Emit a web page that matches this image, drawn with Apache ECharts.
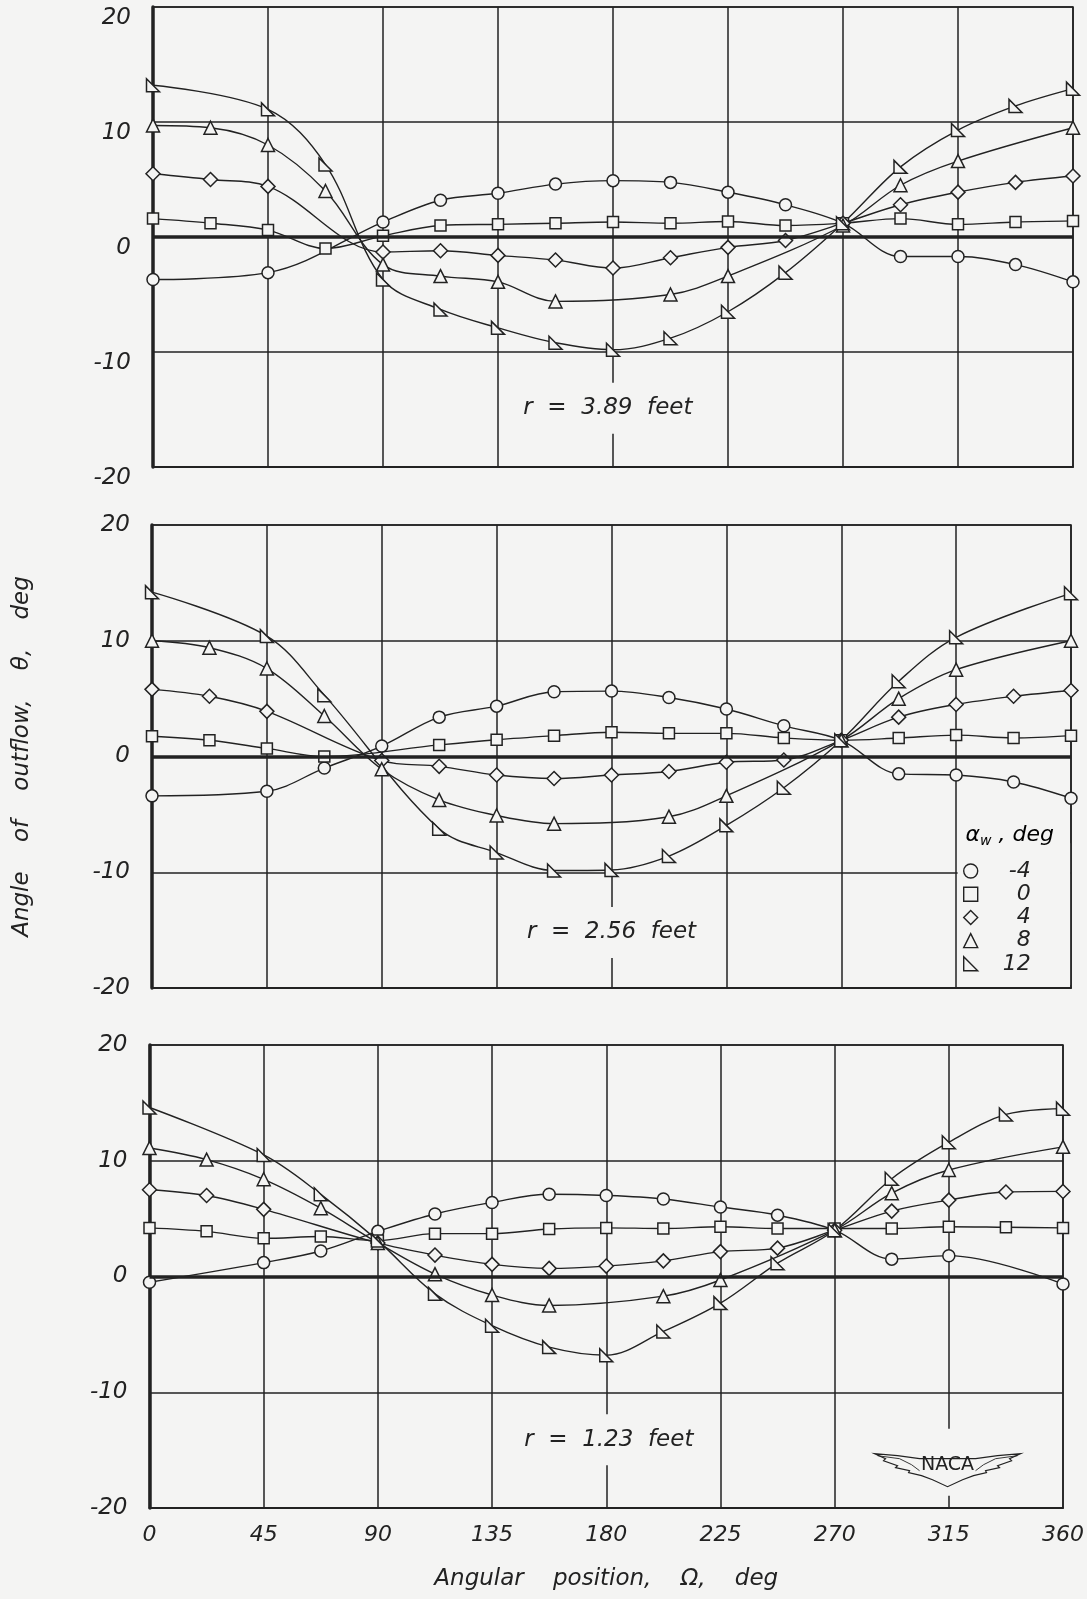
<!DOCTYPE html>
<html><head><meta charset="utf-8">
<script src="https://cdn.jsdelivr.net/npm/echarts@6/dist/echarts.min.js"></script>
<style>html,body{margin:0;padding:0;background:#f4f4f3}#c{width:1087px;height:1599px}</style>
</head><body><div id="c"></div>
<script>
// ---------- data ----------
const angles = [0, 22.5, 45, 67.5, 90, 112.5, 135, 157.5, 180, 202.5, 225, 247.5, 270, 292.5, 315, 337.5, 360];
const xTicks = [0, 45, 90, 135, 180, 225, 270, 315, 360];
const yTicks = [-20, -10, 0, 10, 20];
const alphaW = ['-4', '0', '4', '8', '12'];
const radii = ['3.89', '2.56', '1.23'];

// r = 3.89 feet
const r389_m4 = [-3.7, null, -3.1, null, 1.3, 3.2, 3.8, 4.6, 4.9, 4.75, 3.9, 2.8, 1.2, -1.7, -1.7, -2.4, -3.9];
const r389_0  = [1.6, 1.2, 0.6, -1.0, 0.1, 1.0, 1.1, 1.2, 1.3, 1.2, 1.35, 1.0, 1.2, 1.6, 1.1, 1.3, 1.4];
const r389_4  = [5.5, 5.0, 4.4, null, -1.3, -1.2, -1.6, -2.0, -2.7, -1.8, -0.9, -0.3, 1.2, 2.8, 3.9, 4.75, 5.3];
const r389_8  = [9.7, 9.5, 8.0, 4.0, -2.4, -3.4, -3.9, -5.6, null, -5.0, -3.4, null, 1.0, 4.5, 6.6, null, 9.5];
const r389_12 = [13.2, null, 11.1, 6.3, -3.7, -6.3, -7.9, -9.2, -9.8, -8.8, -6.5, -3.1, 1.2, 6.1, 9.3, 11.4, 12.9];

// r = 2.56 feet
const r256_m4 = [-3.4, null, -3.0, -1.0, 0.9, 3.4, 4.35, 5.6, 5.65, 5.1, 4.1, 2.65, 1.4, -1.5, -1.6, -2.2, -3.6];
const r256_0  = [1.75, 1.4, 0.7, 0.0, null, 1.0, 1.45, 1.8, 2.1, 2.0, 2.0, 1.6, 1.4, 1.6, 1.85, 1.6, 1.8];
const r256_4  = [5.8, 5.2, 3.9, null, -0.35, -0.85, -1.6, -1.9, -1.6, -1.3, -0.5, -0.3, 1.4, 3.4, 4.5, 5.2, 5.7];
const r256_8  = [10.0, 9.4, 7.6, 3.5, -1.1, -3.75, -5.1, -5.8, null, -5.2, -3.4, null, 1.4, 5.0, 7.5, null, 10.0];
const r256_12 = [14.2, null, 10.4, 5.3, null, -6.25, -8.3, -9.85, -9.8, -8.6, -5.95, -2.7, 1.4, 6.5, 10.3, null, 14.1];

// r = 1.23 feet
const r123_m4 = [-0.5, null, 1.2, 2.2, 3.9, 5.4, 6.4, 7.1, 7.0, 6.7, 6.0, 5.3, 4.0, 1.5, 1.8, null, -0.65];
const r123_0  = [4.2, 3.9, 3.3, 3.45, 3.1, 3.7, 3.7, 4.1, 4.2, 4.15, 4.3, 4.15, 4.15, 4.15, 4.3, 4.25, 4.2];
const r123_4  = [7.5, 7.0, 5.8, null, 2.9, 1.85, 1.05, 0.7, 0.9, 1.35, 2.15, 2.45, 4.0, 5.65, 6.6, 7.3, 7.35];
const r123_8  = [11.1, 10.1, 8.4, 5.9, 2.9, 0.2, -1.6, -2.5, null, -1.7, -0.3, null, 4.0, 7.2, 9.2, null, 11.2];
const r123_12 = [14.6, null, 10.5, 7.1, 3.1, -1.5, -4.25, -6.1, -6.8, -4.75, -2.3, 1.15, 4.0, 8.45, 11.6, 14.0, 14.5];

// ---------- chart ----------
const panels = [
  [r389_m4, r389_0, r389_4, r389_8, r389_12],
  [r256_m4, r256_0, r256_4, r256_8, r256_12],
  [r123_m4, r123_0, r123_4, r123_8, r123_12]
];
const BG = '#f4f4f3';
const INK = '#222222';
const F = 'DejaVu Sans';
const symbols = ['circle', 'rect', 'diamond', 'triangle', 'path://M0,0 L0,10 L10,10 Z'];
const symSizes = [12, 11, 14, 13, 13];

const grids = [
  {left: 153, top: 7, width: 920, height: 460},
  {left: 152, top: 525, width: 919, height: 463},
  {left: 149.5, top: 1045, width: 919, height: 463}
].map(g => Object.assign(g, {show: true, borderColor: INK, borderWidth: 1.6, backgroundColor: 'transparent'}));

const labelFont = {fontFamily: F, fontStyle: 'italic', fontSize: 22, color: INK};
const titleFont = {fontFamily: F, fontStyle: 'italic', fontSize: 23, color: INK};

const xAxes = grids.map((g, p) => ({
  type: 'value', gridIndex: p,
  min: xTicks[0], max: xTicks[xTicks.length - 1], interval: xTicks[1] - xTicks[0],
  axisLine: {show: true, onZero: false, lineStyle: {color: INK, width: 1.8}},
  axisTick: {show: false},
  splitLine: {show: true, lineStyle: {color: INK, width: 1.5}},
  axisLabel: Object.assign({show: p === 2, margin: 16}, labelFont),
  name: p === 2 ? 'Angular    position,    Ω,    deg' : '',
  nameLocation: 'middle', nameGap: 60,
  nameTextStyle: titleFont
}));

const yAxes = grids.map((g, p) => ({
  type: 'value', gridIndex: p,
  min: yTicks[0], max: yTicks[yTicks.length - 1], interval: yTicks[1] - yTicks[0],
  axisLine: {show: true, lineStyle: {color: INK, width: 3.5}},
  axisTick: {show: false},
  splitLine: {show: true, lineStyle: {color: INK, width: 1.5}},
  axisLabel: Object.assign({margin: 22, verticalAlign: p === 0 ? 'top' : 'middle',
    formatter: v => (v < 0 ? '-' + Math.abs(v) : '' + v)}, labelFont, {fontSize: 23}),
  name: p === 1 ? 'Angle    of    outflow,    θ,    deg' : '',
  nameLocation: 'middle', nameGap: 118, nameRotate: 90,
  nameTextStyle: titleFont
}));

const series = [];
panels.forEach((arrs, p) => {
  arrs.forEach((vals, k) => {
    const s = {
      type: 'line', name: alphaW[k], xAxisIndex: p, yAxisIndex: p,
      data: angles.map((a, i) => [a, vals[i]]).filter(d => d[1] !== null),
      smooth: 0.35,
      symbol: symbols[k], symbolSize: symSizes[k], showSymbol: true, showAllSymbol: true,
      lineStyle: {color: INK, width: 1.4},
      itemStyle: {color: BG, borderColor: INK, borderWidth: 1.5},
      emphasis: {disabled: true}, silent: true, z: 3
    };
    if (k === 0) {
      s.markLine = {
        silent: true, symbol: 'none', label: {show: false},
        lineStyle: {color: INK, width: 3.5, type: 'solid'},
        data: [{yAxis: 0}], animation: false
      };
    }
    series.push(s);
  });
});

const chart = echarts.init(document.getElementById('c'), null, {renderer: 'canvas'});
chart.setOption({
  backgroundColor: BG,
  animation: false,
  grid: grids, xAxis: xAxes, yAxis: yAxes, series: series,
  legend: {
    left: 958, top: 855, orient: 'vertical', z: 10,
    itemWidth: 14, itemHeight: 14, itemGap: 1.2,
    selectedMode: false,
    data: alphaW.map((n, k) => ({name: n, icon: symbols[k]})),
    itemStyle: {color: BG, borderColor: INK, borderWidth: 1.4},
    formatter: n => '{v|' + n + '}',
    textStyle: {rich: {v: {width: 48, align: 'right', fontSize: 22, fontStyle: 'italic', fontFamily: F, color: INK}}}
  }
});

const graphics = [];
// legend panel: the -10 rule stops at the 315 line
const lg0 = chart.convertToPixel({gridIndex: 1}, [315, -7.5]);
const lg1 = chart.convertToPixel({gridIndex: 1}, [360, -20]);
graphics.push({type: 'rect', z: 1, shape: {x: lg0[0] + 1.5, y: lg0[1], width: lg1[0] - lg0[0] - 2.4, height: lg1[1] - lg0[1] - 3},
  style: {fill: BG}});
// annotations placed in data coordinates
const annot = [[178, -14.9], [180, -15.2], [181, -14.1]];
annot.forEach((c, p) => {
  const pt = chart.convertToPixel({gridIndex: p}, c);
  graphics.push({
    type: 'text', x: pt[0], y: pt[1], z: 50,
    style: {text: 'r  =  ' + radii[p] + '  feet', font: 'italic 23px "DejaVu Sans"', fill: INK,
      align: 'center', verticalAlign: 'middle', backgroundColor: BG, padding: [14, 6]}
  });
});
// legend title
const lt = chart.convertToPixel({gridIndex: 1}, [336, -6.8]);
graphics.push({
  type: 'text', x: lt[0], y: lt[1], z: 50,
  style: {text: '{a|α}{s|w}{a| , deg}', align: 'center', verticalAlign: 'middle',
    rich: {a: {fontFamily: F, fontStyle: 'italic', fontSize: 22, color: INK},
           s: {fontFamily: F, fontStyle: 'italic', fontSize: 14, color: INK, padding: [12, 0, 0, 0]}}}
});
// NACA emblem
const nc = chart.convertToPixel({gridIndex: 2}, [314.5, -16]);
const wingR = [[28, -3], [50, -6], [73, -8], [62, -3], [64, -1], [50, 4], [52, 6], [38, 9], [39, 11], [26, 14], [15, 18], [0, 25]];
const wingL = wingR.map(q => [-q[0], q[1]]).reverse();
graphics.push({
  type: 'group', x: nc[0], y: nc[1], z: 50,
  children: [
    {type: 'rect', shape: {x: -78, y: -33, width: 156, height: 67}, style: {fill: BG}},
    {type: 'polygon', shape: {points: wingR.concat(wingL.slice(1))},
      style: {fill: BG, stroke: INK, lineWidth: 1.2}},
    {type: 'polyline', shape: {points: [[-70, -6], [-48, -3], [-36, 3], [-28, 9]]}, style: {stroke: INK, lineWidth: 0.9, fill: null}},
    {type: 'polyline', shape: {points: [[70, -6], [48, -3], [36, 3], [28, 9]]}, style: {stroke: INK, lineWidth: 0.9, fill: null}},
    {type: 'text', x: 0, y: 3, style: {text: 'NACA', font: '500 19px "DejaVu Sans"', fill: INK, align: 'center', verticalAlign: 'middle'}}
  ]
});
chart.setOption({graphic: graphics});
</script>
</body></html>
